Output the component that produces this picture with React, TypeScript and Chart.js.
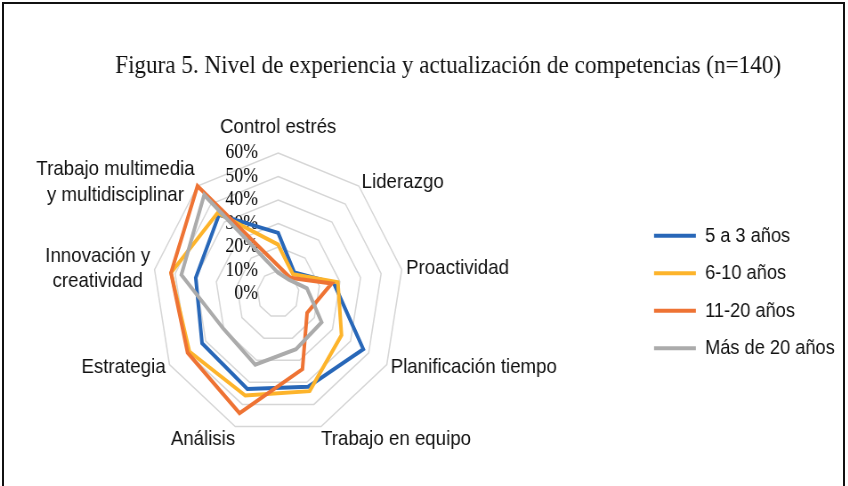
import React, { useEffect, useRef } from 'react';
import { Chart, registerables } from 'chart.js';

Chart.register(...registerables);

// ---------- data ----------
const TITLE = 'Figura 5. Nivel de experiencia y actualización de competencias (n=140)';
const CATEGORIES: (string | string[])[] = [
  'Control estrés',
  'Liderazgo',
  'Proactividad',
  'Planificación tiempo',
  'Trabajo en equipo',
  'Análisis',
  'Estrategia',
  ['Innovación y', 'creatividad'],
  ['Trabajo multimedia', 'y multidisciplinar'],
];
const SERIES_NAMES = ['5 a 3 años', '6-10 años', '11-20 años', 'Más de 20 años'];
const S_5_3 = [26, 12, 27, 47, 42, 43, 42, 40, 44];
const S_6_10 = [21, 11, 29, 35, 44, 46, 49, 52, 45];
const S_11_20 = [12, 9, 26, 16, 34, 54, 50, 52, 60];
const S_MAS_20 = [9, 8, 14, 24, 25, 32, 30, 47, 55];
const TICK_MIN = 0;
const TICK_MAX = 60;
const TICK_STEP = 10;

// ---------- style / layout ----------
const COLORS = ['#2867B8', '#FDB42B', '#EE7334', '#ABABAB'];
const SANS = '"Liberation Sans", Arial, sans-serif';
const SERIF = '"Liberation Serif", "Times New Roman", serif';
const SX = 0.89;
const PAGE_W = 848;
const PAGE_H = 486;
const CANVAS_W = Math.round(PAGE_W / SX);
const CX = 312.5;
const CY = 294;
const RADIUS = 141;
const LABEL_PAD = [13, 5, 5, 5, 0, 0, 5, 5, 5];
const TICK_OFFSET = 22.5;

const tickLabelPlugin = {
  id: 'tickLabelsLeft',
  beforeDatasetsDraw(chart: any) {
    const s = chart.scales.r;
    const ctx = chart.ctx;
    ctx.save();
    ctx.font = `20px ${SERIF}`;
    ctx.fillStyle = '#000';
    ctx.textAlign = 'right';
    ctx.textBaseline = 'middle';
    s.ticks.forEach((t: any) => {
      const d = s.getDistanceFromCenterForValue(t.value);
      ctx.fillText(t.label, s.xCenter - TICK_OFFSET, s.yCenter - d);
    });
    ctx.restore();
  },
};

function placeLabels(scale: any) {
  scale.xCenter = CX;
  scale.yCenter = CY;
  scale.drawingArea = RADIUS;
  const items = scale._pointLabelItems || [];
  const n = items.length;
  items.forEach((item: any, i: number) => {
    const w = item.right - item.left;
    const h = item.bottom - item.top;
    const pos = scale.getPointPosition(i, RADIUS + LABEL_PAD[i]);
    const a = Math.round((i * 360) / n);
    let align: string;
    let top: number;
    if (a === 0 || a === 180) {
      align = 'center';
      top = a === 0 ? pos.y - h : pos.y;
    } else if (a > 135 && a < 225) {
      align = a < 180 ? 'left' : 'right';
      top = pos.y;
    } else {
      align = a < 180 ? 'left' : 'right';
      top = pos.y - h / 2;
    }
    const left = align === 'left' ? pos.x : align === 'right' ? pos.x - w : pos.x - w / 2;
    let x = pos.x;
    if (Array.isArray(scale._pointLabels[i]) && align !== 'center') {
      align = 'center';
      x = left + w / 2;
    }
    item.x = x;
    item.y = top;
    item.textAlign = align;
    item.left = left;
    item.right = left + w;
    item.top = top;
    item.bottom = top + h;
  });
}

export default function App() {
  const ref = useRef<HTMLCanvasElement>(null);
  useEffect(() => {
    const canvas = ref.current;
    if (!canvas) return;
    const seriesValues = [S_5_3, S_6_10, S_11_20, S_MAS_20];
    const chart = new Chart(canvas, {
      type: 'radar',
      data: {
        labels: CATEGORIES,
        datasets: seriesValues.map((vals, i) => ({
          label: SERIES_NAMES[i],
          data: vals,
          borderColor: COLORS[i],
          backgroundColor: COLORS[i],
          borderWidth: 4,
          fill: false,
          pointRadius: 0,
          pointHoverRadius: 0,
          tension: 0,
          clip: false as any,
          order: seriesValues.length - 1 - i,
        })),
      },
      options: {
        animation: false,
        responsive: false,
        devicePixelRatio: 1,
        layout: { padding: { top: 20, bottom: 6, left: 59, right: 5 } },
        plugins: {
          title: {
            display: true,
            text: TITLE,
            color: '#111',
            font: { family: SERIF, size: 26, weight: 'normal' as any },
            padding: { top: 31, bottom: 22 },
          },
          legend: {
            position: 'right',
            fullSize: false,
            labels: {
              usePointStyle: true,
              pointStyle: 'line',
              pointStyleWidth: 47,
              color: '#111',
              font: { family: SANS, size: 20.5 },
              padding: 17,
              sort: (a: any, b: any) => a.datasetIndex - b.datasetIndex,
            },
          },
          tooltip: { enabled: false },
        },
        scales: {
          r: {
            min: TICK_MIN,
            max: TICK_MAX,
            ticks: {
              display: false,
              stepSize: TICK_STEP,
              callback: (v: any) => `${v}%`,
            },
            grid: { color: '#d6d6d6', lineWidth: 1.5, circular: false },
            angleLines: { display: false },
            pointLabels: {
              color: '#111',
              font: { family: SANS, size: 21 },
              padding: (ctx: any) => LABEL_PAD[ctx.index] ?? 5,
            },
            afterFit: placeLabels,
          } as any,
        },
      },
      plugins: [tickLabelPlugin],
    });
    return () => chart.destroy();
  }, []);

  return (
    <div
      style={{
        position: 'fixed',
        left: 0,
        top: 0,
        width: PAGE_W,
        height: PAGE_H,
        overflow: 'hidden',
        background: '#fff',
      }}
    >
      <div
        style={{
          position: 'absolute',
          left: 0,
          top: 0,
          width: CANVAS_W,
          height: PAGE_H,
          transform: `scaleX(${SX})`,
          transformOrigin: '0 0',
        }}
      >
        <canvas ref={ref} width={CANVAS_W} height={PAGE_H} />
      </div>
      <div
        style={{
          position: 'absolute',
          left: 2,
          top: 2,
          width: 843,
          height: PAGE_H + 20,
          border: '2px solid #111',
          boxSizing: 'border-box',
          pointerEvents: 'none',
        }}
      />
    </div>
  );
}
